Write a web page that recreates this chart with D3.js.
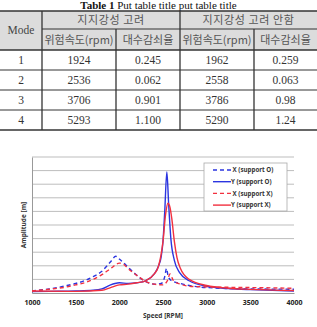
<!DOCTYPE html>
<html>
<head>
<meta charset="utf-8">
<script src="https://cdn.jsdelivr.net/npm/d3@7"></script>
<style>
  body { margin: 0; background: #fff; }
  svg { display: block; }
</style>
</head>
<body>
<div id="wrapper"></div>
<script>
// table data
const tableTitleBold = "Table 1";
const tableTitleRest = " Put table title put table title";
const groupHeaders = ["지지강성 고려", "지지강성 고려 안함"];
const subHeaders = ["위험속도(rpm)", "대수감쇠율", "위험속도(rpm)", "대수감쇠율"];
const modes = ["1", "2", "3", "4"];
const speedWith = ["1924", "2536", "3706", "5293"];
const dampWith = ["0.245", "0.062", "0.901", "1.100"];
const speedWithout = ["1962", "2558", "3786", "5290"];
const dampWithout = ["0.259", "0.063", "0.98", "1.24"];

// chart data (amplitude, arbitrary units 0-10)
const xTicks = [1000, 1500, 2000, 2500, 3000, 3500, 4000];
const seriesNames = [" X (support O)", "Y (support O)", " X (support X)", "Y (support X)"];

const rpmXO = [1000, 1200, 1400, 1500, 1600, 1700, 1800, 1900, 1960, 2000, 2100, 2200, 2300, 2400, 2480, 2520, 2540, 2560, 2600, 2700, 2800, 3000, 3500, 4000];
const ampXO = [0.15, 0.3, 0.55, 0.7, 0.9, 1.2, 1.6, 2.3, 2.7, 2.5, 1.9, 1.3, 0.85, 0.65, 0.7, 1.2, 1.8, 1.2, 0.9, 0.7, 0.55, 0.4, 0.3, 0.28];

const rpmYO = [1000, 1200, 1500, 1700, 1800, 1900, 1950, 2000, 2100, 2200, 2300, 2400, 2450, 2480, 2500, 2520, 2544, 2565, 2590, 2630, 2690, 2800, 3000, 3250, 3500, 3750, 4000];
const ampYO = [0.1, 0.12, 0.15, 0.2, 0.3, 0.6, 0.7, 0.75, 0.7, 0.75, 0.9, 1.4, 2.0, 2.7, 3.8, 6.0, 8.9, 6.5, 4.0, 2.4, 1.5, 0.9, 0.5, 0.33, 0.25, 0.2, 0.15];

const rpmXX = [1000, 1200, 1400, 1500, 1600, 1700, 1800, 1900, 2000, 2050, 2100, 2200, 2300, 2400, 2500, 2550, 2580, 2620, 2700, 2800, 3000, 3500, 4000];
const ampXX = [0.15, 0.28, 0.45, 0.6, 0.75, 1.0, 1.35, 1.8, 2.2, 2.1, 1.8, 1.3, 0.85, 0.65, 0.6, 0.9, 1.4, 0.9, 0.65, 0.5, 0.45, 0.4, 0.35];

const rpmYX = [1000, 1500, 1800, 1900, 2000, 2100, 2200, 2300, 2400, 2450, 2500, 2530, 2556, 2580, 2600, 2630, 2660, 2700, 2800, 3000, 3250, 3500, 4000];
const ampYX = [0.15, 0.12, 0.2, 0.4, 0.6, 0.65, 0.75, 0.9, 1.4, 2.0, 3.8, 5.8, 6.6, 6.3, 5.5, 3.8, 2.6, 1.8, 1.0, 0.55, 0.35, 0.27, 0.18];

const blue = "#2b35e0";
const red = "#f2303f";

const W = 317, H = 327;
const svg = d3.select("#wrapper").append("svg").attr("width", W).attr("height", H);

// ---------- table ----------
const serif = "'Liberation Serif', 'DejaVu Serif', serif";
const kr = "'Noto Sans CJK KR', sans-serif";

const colEdges = [0, 42, 116, 180, 254, 317];
const rowEdges = [11, 29, 50, 70, 90, 110, 130];

const title = svg.append("text")
  .attr("x", W / 2).attr("y", 9)
  .attr("text-anchor", "middle")
  .style("font-family", serif).style("font-size", "11px").attr("fill", "#111");
title.append("tspan").style("font-weight", "bold").text(tableTitleBold);
title.append("tspan").text(tableTitleRest);

const table = svg.append("g");

// header background
table.append("rect")
  .attr("x", 0).attr("y", rowEdges[0])
  .attr("width", W).attr("height", rowEdges[2] - rowEdges[0])
  .attr("fill", "#dcdcdc");

// horizontal lines
rowEdges.forEach((y, i) => {
  const x1 = (i === 1) ? colEdges[1] : 0;
  table.append("line")
    .attr("x1", x1).attr("x2", W).attr("y1", y).attr("y2", y)
    .attr("stroke", "#333")
    .attr("stroke-width", (i === 0 || i === 2 || i === rowEdges.length - 1) ? 1.6 : 1);
});
// vertical lines
colEdges.slice(1, 5).forEach((x, i) => {
  const y1 = (i === 1 || i === 3) ? rowEdges[1] : rowEdges[0];
  table.append("line")
    .attr("x1", x).attr("x2", x).attr("y1", y1).attr("y2", rowEdges[6])
    .attr("stroke", "#333").attr("stroke-width", 1.3);
});

const colCenter = i => (colEdges[i] + colEdges[i + 1]) / 2;
const rowCenter = i => (rowEdges[i] + rowEdges[i + 1]) / 2;

table.append("text")
  .attr("x", colCenter(0)).attr("y", rowEdges[2] - 16)
  .attr("text-anchor", "middle")
  .style("font-family", serif).style("font-size", "11.5px").attr("fill", "#444")
  .text("Mode");

groupHeaders.forEach((t, i) => {
  table.append("text")
    .attr("x", (colEdges[1 + i * 2] + colEdges[3 + i * 2]) / 2)
    .attr("y", rowCenter(0) + 4)
    .attr("text-anchor", "middle")
    .style("font-family", kr).style("font-size", "11px").style("letter-spacing", "0.6px").attr("fill", "#555")
    .text(t);
});

subHeaders.forEach((t, i) => {
  table.append("text")
    .attr("x", colCenter(i + 1)).attr("y", rowCenter(1) + 4)
    .attr("text-anchor", "middle")
    .style("font-family", kr).style("font-size", "11px").attr("fill", "#555")
    .text(t);
});

const tableRows = modes.map((m, i) => [m, speedWith[i], dampWith[i], speedWithout[i], dampWithout[i]]);
tableRows.forEach((row, r) => {
  row.forEach((v, c) => {
    table.append("text")
      .attr("x", colCenter(c)).attr("y", rowCenter(r + 2) + 4)
      .attr("text-anchor", "middle")
      .style("font-family", serif).style("font-size", "11.5px").attr("fill", "#333")
      .text(v);
  });
});

// ---------- chart ----------
const plot = { left: 32, right: 294, top: 157, bottom: 293 };
const sans = "'Open Sans', 'DejaVu Sans', sans-serif";

const xScale = d3.scaleLinear().domain([1000, 4000]).range([plot.left, plot.right]);
const yScale = d3.scaleLinear().domain([0, 10]).range([plot.bottom, plot.top]);

const chart = svg.append("g");

// gridlines
chart.selectAll(".grid")
  .data(d3.range(1, 11))
  .enter().append("line")
  .attr("x1", plot.left).attr("x2", plot.right)
  .attr("y1", d => yScale(d)).attr("y2", d => yScale(d))
  .attr("stroke", "#bdbdbd").attr("stroke-width", 1);

// x axis
const xAxis = chart.append("g")
  .attr("transform", `translate(0, ${plot.bottom})`)
  .call(d3.axisBottom(xScale).tickValues(xTicks).tickSize(0).tickPadding(7).tickFormat(d3.format("d")));
xAxis.select(".domain").attr("stroke", "#999");
xAxis.selectAll("text")
  .style("font-family", sans).style("font-size", "7px").style("font-weight", "bold").attr("fill", "#222");

// y axis (no labels)
const yAxis = chart.append("g")
  .attr("transform", `translate(${plot.left}, 0)`)
  .call(d3.axisLeft(yScale).tickValues([]).tickSize(0));
yAxis.select(".domain").attr("stroke", "#999");

chart.append("text")
  .attr("x", (plot.left + plot.right) / 2).attr("y", 318)
  .attr("text-anchor", "middle")
  .style("font-family", sans).style("font-size", "6.5px").style("font-weight", "bold").attr("fill", "#333")
  .text("Speed [RPM]");

chart.append("text")
  .attr("transform", `translate(26, ${(plot.top + plot.bottom) / 2}) rotate(-90)`)
  .attr("text-anchor", "middle")
  .style("font-family", sans).style("font-size", "6.5px").style("font-weight", "bold").attr("fill", "#333")
  .text("Amplitude [m]");

const series = [
  { name: seriesNames[0], xs: rpmXO, ys: ampXO, color: blue, dash: "4,3" },
  { name: seriesNames[1], xs: rpmYO, ys: ampYO, color: blue, dash: null },
  { name: seriesNames[2], xs: rpmXX, ys: ampXX, color: red, dash: "4,3" },
  { name: seriesNames[3], xs: rpmYX, ys: ampYX, color: red, dash: null }
];

const lineGen = d3.line()
  .x(d => xScale(d[0]))
  .y(d => yScale(d[1]))
  .curve(d3.curveMonotoneX);

series.forEach(s => {
  chart.append("path")
    .attr("d", lineGen(s.xs.map((x, i) => [x, s.ys[i]])))
    .attr("fill", "none")
    .attr("stroke", s.color)
    .attr("stroke-width", 1.4)
    .attr("stroke-dasharray", s.dash);
});

// legend
const legend = chart.append("g").attr("transform", "translate(204, 163)");
legend.append("rect")
  .attr("width", 83).attr("height", 48)
  .attr("fill", "#fff").attr("stroke", "#aaa").attr("stroke-width", 0.8);

const legendItems = legend.selectAll(".legend-item")
  .data(series)
  .enter().append("g")
  .attr("transform", (d, i) => `translate(0, ${7 + i * 11.7})`);

legendItems.append("line")
  .attr("x1", 9).attr("x2", 27).attr("y1", 0).attr("y2", 0)
  .attr("stroke", d => d.color).attr("stroke-width", 1.4)
  .attr("stroke-dasharray", d => d.dash ? "4,3" : null);

legendItems.append("text")
  .attr("x", 27).attr("y", 2.3)
  .attr("xml:space", "preserve")
  .style("white-space", "pre")
  .style("font-family", sans).style("font-size", "6.2px").style("font-weight", "bold").attr("fill", "#333")
  .text(d => d.name);
</script>
</body>
</html>
